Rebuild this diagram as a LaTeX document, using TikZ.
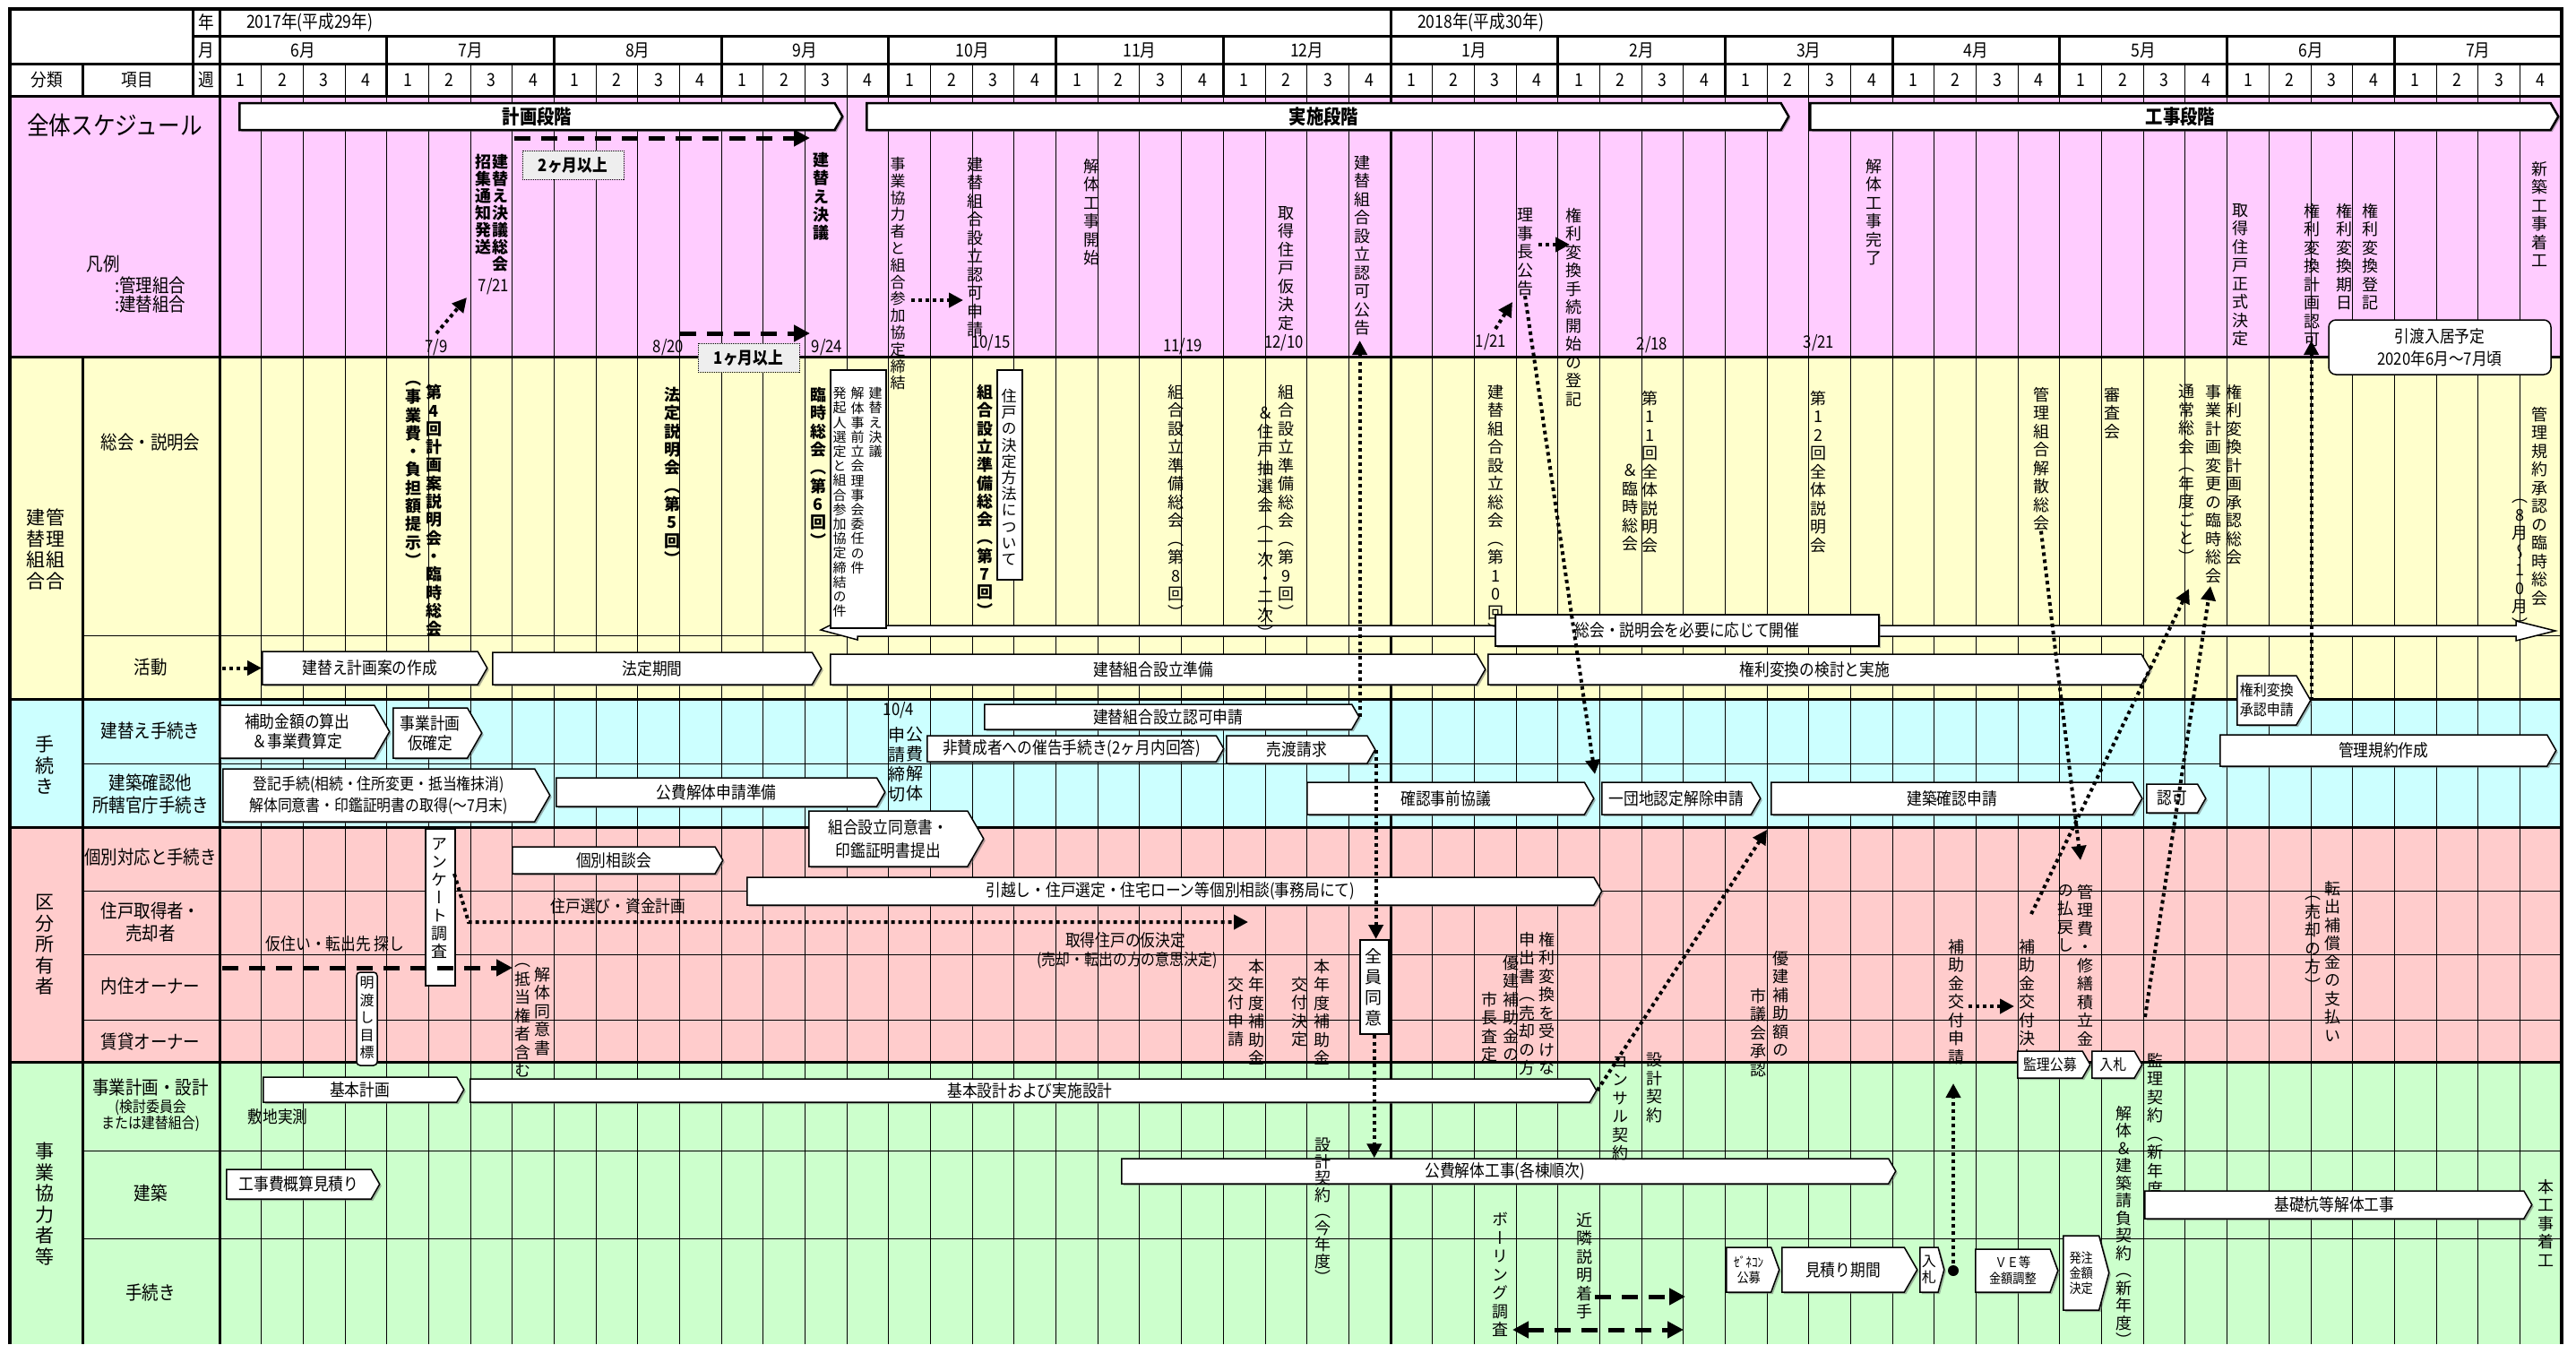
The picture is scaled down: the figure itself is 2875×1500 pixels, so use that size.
\documentclass[tikz,border=0pt]{standalone}
\usepackage{fontspec}
\setmainfont{Noto Sans CJK JP}[FakeStretch=0.88]
\newfontfamily\vfont{Noto Sans CJK JP}[RawFeature=+vert]
\usetikzlibrary{arrows.meta,shapes.symbols,shadows}
\definecolor{bgpink}{RGB}{255,204,255}
\definecolor{bgyellow}{RGB}{255,255,204}
\definecolor{bgcyan}{RGB}{204,255,255}
\definecolor{bgred}{RGB}{255,204,204}
\definecolor{bggreen}{RGB}{204,255,204}
\definecolor{boxgray}{RGB}{238,238,238}

% stack the characters of a string, one per line
\ExplSyntaxOn
\seq_new:N \g_vt_items_seq
\NewDocumentCommand \vt { m }
  {
    \seq_gclear:N \g_vt_items_seq
    \tl_map_inline:nn {#1} { \seq_gput_right:Nn \g_vt_items_seq {##1} }
    \seq_use:Nn \g_vt_items_seq { \\ }
  }
\ExplSyntaxOff

\begin{document}
\begin{tikzpicture}[
  x=1pt, y=-1pt,
  font=\fontsize{19}{22}\selectfont,
  grid/.style={line width=1pt},
  heavy/.style={line width=3pt},
  hd/.style={inner sep=0pt, font=\fontsize{20}{22}\selectfont},
  lbl/.style={inner sep=0pt, align=center, font=\fontsize{21}{25}\selectfont},
  vt/.style={anchor=north, inner sep=0pt, align=center, font=\vfont\fontsize{18}{20.5}\selectfont},
  vtb/.style={vt, font=\vfont\bfseries\fontsize{18}{20.3}\selectfont},
  vts/.style={vt, font=\vfont\fontsize{15}{16.2}\selectfont},
  vtl/.style={vt, font=\vfont\fontsize{21}{23.5}\selectfont},
  datelbl/.style={inner sep=0pt, font=\fontsize{19}{20}\selectfont},
  arrbox/.style={signal, signal to=east, signal pointer angle=120, draw, line width=1.5pt, fill=white,
    inner sep=0pt, anchor=west, align=center,
    drop shadow={shadow xshift=2pt, shadow yshift=-2pt, fill=black!60}},
  plainbox/.style={draw, line width=1.5pt, fill=white, inner sep=0pt, anchor=north west},
  phase/.style={arrbox, line width=2.5pt, font=\bfseries\fontsize{22}{24}\selectfont},
  gapbox/.style={draw, densely dotted, line width=1pt, fill=boxgray, inner sep=0pt,
    minimum width=113, minimum height=32, font=\bfseries\fontsize{19}{20}\selectfont},
  dotarr/.style={line width=4pt, dash pattern=on 4pt off 4pt, -{Triangle[length=16pt,width=16pt]}},
  dasharr/.style={line width=5pt, dash pattern=on 18pt off 12pt, -{Triangle[length=18pt,width=18pt]}}
]
\useasboundingbox (0,0) rectangle (2875,1500);
\fill[white] (0,0) rectangle (2875,1500);
\def\xa{245}
\def\wk{46.68}

% section colours
\fill[bgpink] (11,107) rectangle (2859,398);
\fill[bgyellow] (11,398) rectangle (2859,780);
\fill[bgcyan] (11,780) rectangle (2859,923);
\fill[bgred] (11,923) rectangle (2859,1185);
\fill[bggreen] (11,1185) rectangle (2859,1500);

% grid
\foreach \k in {1,...,55}
  \draw[grid] ({\xa+\k*\wk},71) -- ({\xa+\k*\wk},1500);
\foreach \m in {1,...,13}
  \draw[heavy] ({\xa+4*\m*\wk},40) -- ({\xa+4*\m*\wk},107);
\draw[heavy] ({\xa+28*\wk},10) -- ({\xa+28*\wk},1500);
\draw[heavy] (215,40) -- (2859,40);
\draw[heavy] (11,71) -- (2859,71);
\draw[heavy] (11,107) -- (2859,107);
\foreach \y in {398,780,923,1185}
  \draw[heavy] (11,\y) -- (2859,\y);
\foreach \y in {709,852,994,1065,1138,1284,1382}
  \draw[grid] (92,\y) -- (2859,\y);
\draw[heavy] (215,10) -- (215,107);
\draw[heavy] (\xa,10) -- (\xa,1500);
\draw[heavy] (92,71) -- (92,107);
\draw[heavy] (92,398) -- (92,1500);
\draw[line width=4pt] (11,1500) -- (11,10) -- (2859,10) -- (2859,1500);

% header
\node[hd] (nen) at (230,25) {年};
\node[hd] (tsuki) at (230,56) {月};
\node[hd] (shu) at (230,89) {週};
\node[hd] (bunrui) at (52,89) {分類};
\node[hd] (komoku) at (153,89) {項目};
\node[hd, anchor=west] (y2017) at (275,25) {2017年(平成29年)};
\node[hd, anchor=west] (y2018) at (1582,25) {2018年(平成30年)};
\foreach \m/\lab in {0/6月,1/7月,2/8月,3/9月,4/10月,5/11月,6/12月,7/1月,8/2月,9/3月,10/4月,11/5月,12/6月,13/7月}
  \node[hd] (mon\m) at ({\xa+(4*\m+2)*\wk},56) {\lab};
\foreach \k in {0,...,55} {
  \pgfmathtruncatemacro{\n}{mod(\k,4)+1}
  \node[hd] (wk\k) at ({\xa+(\k+0.5)*\wk},89) {\n};
}

% left labels
\node[inner sep=0pt, font=\fontsize{28}{30}\selectfont] (zentai) at (128,140) {全体スケジュール};
\node[lbl] (hanrei) at (115,295) {凡例};
\node[lbl, anchor=west] (hkanri) at (128,318) {:管理組合};
\node[lbl, anchor=west] (htate) at (128,340) {:建替組合};
\node[vtl] (cat1a) at (62,568) {\vt{管理組合}};
\node[vtl] (cat1b) at (40,568) {\vt{建替組合}};
\node[lbl] (it1) at (168,494) {総会・説明会};
\node[lbl] (it2) at (168,745) {活動};
\node[vtl] (cat2) at (50,821) {\vt{手続き}};
\node[lbl] (it3) at (168,816) {建替え手続き};
\node[lbl] (it4) at (168,886) {建築確認他\\所轄官庁手続き};
\node[vtl] (cat3) at (50,998) {\vt{区分所有者}};
\node[lbl] (it5) at (168,957) {個別対応と手続き};
\node[lbl] (it6) at (168,1029) {住戸取得者・\\売却者};
\node[lbl] (it7) at (168,1101) {内住オーナー};
\node[lbl] (it8) at (168,1162) {賃貸オーナー};
\node[vtl] (cat4) at (50,1275) {\vt{事業協力者等}};
\node[lbl] (it9) at (168,1214) {事業計画・設計};
\node[lbl, font=\fontsize{17}{18}\selectfont] (it9s) at (168,1245) {(検討委員会\\または建替組合)};
\node[lbl] (it10) at (168,1331) {建築};
\node[lbl] (it11) at (168,1442) {手続き};

% phases
\node[phase, minimum width=673, minimum height=30] (kphase) at (266,130) {計画段階};
\node[phase, minimum width=1029, minimum height=30] (jphase) at (966,130) {実施段階};
\node[phase, minimum width=835, minimum height=30] (cphase) at (2019,130) {工事段階};

% overall schedule
\node[vtb, font=\vfont\bfseries\fontsize{18}{19}\selectfont] (shoshu) at (539,172) {\vt{招集通知発送}};
\node[vtb, font=\vfont\bfseries\fontsize{18}{19}\selectfont] (ketsugisokai) at (558,172) {\vt{建替え決議総会}};
\node[datelbl] (d721) at (551,320) {7/21};
\node[vtb] (ketsugi) at (916,170) {\vt{建替え決議}};
\node[vt, font=\vfont\fontsize{17}{18.8}\selectfont] (kyotei) at (1002,175) {\vt{事業協力者と組合参加協定締結}};
\node[vt] (ninkashinsei) at (1088,175) {\vt{建替組合設立認可申請}};
\node[vt] (kaitaistart) at (1218,177) {\vt{解体工事開始}};
\node[vt] (karikettei) at (1435,230) {\vt{取得住戸仮決定}};
\node[vt] (ninkakoukoku) at (1520,173) {\vt{建替組合設立認可公告}};
\node[vt] (rijicho) at (1702,232) {\vt{理事長公告}};
\node[vt] (kenritouki) at (1756,232) {\vt{権利変換手続開始の登記}};
\node[vt] (kaitaiend) at (2091,177) {\vt{解体工事完了}};
\node[vt] (seishiki) at (2500,227) {\vt{取得住戸正式決定}};
\node[vt] (keikakuninka) at (2580,227) {\vt{権利変換計画認可}};
\node[vt] (kijitsu) at (2616,227) {\vt{権利変換期日}};
\node[vt] (touki) at (2645,227) {\vt{権利変換登記}};
\node[vt] (chakko) at (2834,180) {\vt{新築工事着工}};
\node[datelbl] (d79) at (487,388) {7/9};
\node[datelbl] (d820) at (746,388) {8/20};
\node[datelbl] (d924) at (923,388) {9/24};
\node[datelbl] (d1015) at (1106,383) {10/15};
\node[datelbl] (d1119) at (1320,387) {11/19};
\node[datelbl] (d1210) at (1433,383) {12/10};
\node[datelbl] (d121) at (1664,382) {1/21};
\node[datelbl] (d218) at (1844,385) {2/18};
\node[datelbl] (d321) at (2030,383) {3/21};
\node[gapbox] (twomon) at (639.5,184) {2ヶ月以上};
\node[gapbox] (onemon) at (835.5,399) {1ヶ月以上};
\node[draw, line width=1.5pt, fill=white, rounded corners=8pt, minimum width=248, minimum height=61,
  align=center, inner sep=0pt, font=\fontsize{19}{25}\selectfont] (hikiwatashi) at (2723,387.5) {引渡入居予定\\2020年6月～7月頃};

% general meetings
\node[vtb] (futan) at (461,425) {\vt{（事業費・負担額提示）}};
\node[vtb] (dai4) at (484,429) {\vt{第4回計画案説明会・臨時総会}};
\node[vtb] (dai5) at (750,432) {\vt{法定説明会（第5回）}};
\node[vtb] (dai6) at (913,432) {\vt{臨時総会（第6回）}};
\draw[line width=1.5pt, fill=white] (916,703) -- (926,698) -- (2808,698) -- (2808,693) -- (2852,704)
  -- (2808,715) -- (2808,710) -- (957,710) -- (957,714) -- cycle;
\node[plainbox, minimum width=62, minimum height=288] (callout) at (926,412) {};
\node[vts] (agenda1) at (977,432) {\vt{建替え決議}};
\node[vts] (agenda2) at (957,432) {\vt{解体事前立会理事会委任の件}};
\node[vts] (agenda3) at (937,432) {\vt{発起人選定と組合参加協定締結の件}};
\node[vtb] (dai7) at (1099,429) {\vt{組合設立準備総会（第7回）}};
\node[plainbox, minimum width=28, minimum height=234] (houhoubox) at (1112,412) {};
\node[vt, font=\vfont\fontsize{17}{18.2}\selectfont] (houhou) at (1126,434) {\vt{住戸の決定方法について}};
\node[vt] (dai8) at (1312,429) {\vt{組合設立準備総会（第8回）}};
\node[vt] (chusen) at (1412,454) {\vt{＆住戸抽選会（一次・二次）}};
\node[vt] (dai9) at (1435,429) {\vt{組合設立準備総会（第9回）}};
\node[vt] (dai10) at (1669,429) {\vt{建替組合設立総会（第10回）}};
\node[vt] (rinji11) at (1819,518) {\vt{＆臨時総会}};
\node[vt] (dai11) at (1841,436) {\vt{第11回全体説明会}};
\node[vt] (dai12) at (2029,436) {\vt{第12回全体説明会}};
\node[vt] (kaisan) at (2278,432) {\vt{管理組合解散総会}};
\node[vt] (shinsa) at (2357,432) {\vt{審査会}};
\node[vt] (tsujo) at (2440,429) {\vt{通常総会（年度ごと）}};
\node[vt] (henkou) at (2470,429) {\vt{事業計画変更の臨時総会}};
\node[vt] (shonin) at (2493,429) {\vt{権利変換計画承認総会}};
\node[vt] (kiyaku) at (2834,454) {\vt{管理規約承認の臨時総会}};
\node[vt] (kiyakuki) at (2812,557) {\vt{（8月～10月）}};
\node[draw, line width=1.5pt, fill=white, minimum width=428, minimum height=35, inner sep=0pt,
  drop shadow={shadow xshift=2pt, shadow yshift=-2pt, fill=black!60}] (hitsuyou) at (1883,703.5) {総会・説明会を必要に応じて開催};

% activities
\node[arrbox, minimum width=251, minimum height=37] (plan) at (292,745.5) {建替え計画案の作成};
\node[arrbox, minimum width=367, minimum height=36] (legal) at (549,746) {法定期間};
\node[arrbox, minimum width=731, minimum height=34] (prep) at (926,747) {建替組合設立準備};
\node[arrbox, minimum width=739, minimum height=34] (rights) at (1660,747) {権利変換の検討と実施};
\node[arrbox, minimum width=82, minimum height=55, font=\fontsize{17}{22}\selectfont] (rcapp) at (2496,781.5) {権利変換\\承認申請};

% procedures
\node[arrbox, minimum width=189, minimum height=59] (subsidy) at (245,816.5) {補助金額の算出\\＆事業費算定};
\node[arrbox, minimum width=99, minimum height=56] (bizplan) at (438,818) {事業計画\\仮確定};
\node[arrbox, minimum width=418, minimum height=28] (authreq) at (1098,800) {建替組合設立認可申請};
\node[arrbox, minimum width=331, minimum height=29] (notice) at (1034,835.5) {非賛成者への催告手続き(2ヶ月内回答)};
\node[arrbox, minimum width=166, minimum height=31] (sellreq) at (1368,836.5) {売渡請求};
\node[arrbox, minimum width=365, minimum height=59, font=\fontsize{18}{24}\selectfont] (registr) at (248,887.5) {登記手続(相続・住所変更・抵当権抹消)\\解体同意書・印鑑証明書の取得(～7月末)};
\node[arrbox, minimum width=367, minimum height=32] (demoprep) at (620,884) {公費解体申請準備};
\node[datelbl] (d104) at (1003,793) {10/4};
\node[vt, font=\vfont\fontsize{19}{22}\selectfont] (koukai) at (1021,811) {\vt{公費解体}};
\node[vt, font=\vfont\fontsize{19}{22}\selectfont] (shimekiri) at (1001,811) {\vt{申請締切}};
\node[arrbox, minimum width=320, minimum height=36] (confirm) at (1458,891) {確認事前協議};
\node[arrbox, minimum width=177, minimum height=36] (danchi) at (1787,891) {一団地認定解除申請};
\node[arrbox, minimum width=414, minimum height=36] (bldconf) at (1976,891) {建築確認申請};
\node[arrbox, minimum width=66, minimum height=32] (permit) at (2395,891) {認可};
\node[arrbox, minimum width=375, minimum height=35] (mgmtrule) at (2477,837.5) {管理規約作成};
\node[arrbox, minimum width=195, minimum height=62, font=\fontsize{19}{26}\selectfont] (consent) at (902,936) {組合設立同意書・\\印鑑証明書提出};

% unit owners
\node[arrbox, minimum width=235, minimum height=30] (indiv) at (571,960) {個別相談会};
\node[arrbox, minimum width=954, minimum height=31] (consult) at (833,994.5) {引越し・住戸選定・住宅ローン等個別相談(事務局にて)};
\node[plainbox, minimum width=33, minimum height=175] (surveybox) at (474,924) {};
\node[vt, font=\vfont\fontsize{18}{20}\selectfont] (survey) at (490.5,935) {\vt{アンケート調査}};
\node[draw, line width=1.5pt, fill=white, rounded corners=4pt, minimum width=23, minimum height=104,
  inner sep=0pt] (vacatebox) at (409.5,1137) {};
\node[vt, font=\vfont\fontsize{16}{19.4}\selectfont] (vacate) at (409.5,1090) {\vt{明渡し目標}};
\node[inner sep=0pt] (erabi) at (690,1011) {住戸選び・資金計画};
\node[inner sep=0pt] (karizumai) at (374,1053) {仮住い・転出先 探し};
\node[vt] (doisho) at (605,1079) {\vt{解体同意書}};
\node[vt] (teitou) at (583,1075) {\vt{（抵当権者含む）}};
\node[inner sep=0pt] (karikimari) at (1256,1049) {取得住戸の仮決定};
\node[inner sep=0pt, font=\fontsize{18}{20}\selectfont] (ishi) at (1258,1072) {(売却・転出の方の意思決定)};
\node[vt] (hojo1) at (1402,1070) {\vt{本年度補助金}};
\node[vt] (koufu1) at (1379,1090) {\vt{交付申請}};
\node[vt] (hojo2) at (1475,1070) {\vt{本年度補助金}};
\node[vt] (koufu2) at (1450,1090) {\vt{交付決定}};
\node[plainbox, minimum width=32, minimum height=105] (allagree) at (1517,1048) {};
\node[vt, font=\vfont\fontsize{19}{23}\selectfont] (allagreet) at (1533,1058) {\vt{全員同意}};
\node[vt] (yuken1) at (1686,1066) {\vt{優建補助金の}};
\node[vt] (shicho) at (1662,1107) {\vt{市長査定}};
\node[vt] (ukenai) at (1726,1040) {\vt{権利変換を受けな}};
\node[vt] (moushide) at (1704,1040) {\vt{申出書（売却の方）}};
\node[vt] (yuken2) at (1987,1061) {\vt{優建補助額の}};
\node[vt] (gikai) at (1962,1103) {\vt{市議会承認}};
\node[vt] (kofushinsei) at (2183,1048) {\vt{補助金交付申請}};
\node[vt] (kofukettei) at (2262,1048) {\vt{補助金交付決定}};
\node[vt] (shuzen) at (2327,987) {\vt{管理費・修繕積立金}};
\node[vt] (haraimodoshi) at (2305,987) {\vt{の払戻し}};
\node[vt] (hosho) at (2603,983) {\vt{転出補償金の支払い}};
\node[vt] (baikyaku) at (2581,1000) {\vt{（売却の方）}};

% business partners
\node[arrbox, minimum width=224, minimum height=28] (basicplan) at (293,1216) {基本計画};
\node[arrbox, minimum width=1257, minimum height=26] (design) at (524,1217) {基本設計および実施設計};
\node[inner sep=0pt] (sokuryo) at (310,1246) {敷地実測};
\node[arrbox, minimum width=171, minimum height=33] (estimate) at (252,1321.5) {工事費概算見積り};
\node[arrbox, minimum width=864, minimum height=28] (demowork) at (1251,1307) {公費解体工事(各棟順次)};
\node[vt, font=\vfont\fontsize{18}{18.5}\selectfont] (sekkei1) at (1476,1270) {\vt{設計契約（今年度）}};
\node[vt] (consul) at (1808,1179) {\vt{コンサル契約}};
\node[vt] (sekkei2) at (1846,1175) {\vt{設計契約}};
\node[vt] (boring) at (1674,1353) {\vt{ボーリング調査}};
\node[vt] (kinrin) at (1768,1353) {\vt{近隣説明着手}};
\node[arrbox, signal pointer angle=140, minimum width=59, minimum height=50, font=\fontsize{15}{17}\selectfont] (gencon) at (1926,1417) {ｾﾞﾈｺﾝ\\公募};
\node[arrbox, minimum width=151, minimum height=50] (quote) at (1988,1417) {見積り期間};
\node[arrbox, signal pointer angle=150, minimum width=27, minimum height=50, font=\vfont\fontsize{16}{18}\selectfont] (bidone) at (2142,1417) {\vt{入札}};
\node[arrbox, signal pointer angle=140, minimum width=92, minimum height=48, font=\fontsize{15}{18}\selectfont] (vebox) at (2204,1418) {ＶＥ等\\金額調整};
\node[arrbox, signal pointer angle=150, minimum width=51, minimum height=83, font=\fontsize{15}{17}\selectfont] (order) at (2302,1420.5) {発注\\金額\\決定};
\node[arrbox, minimum width=81, minimum height=30, font=\fontsize{17}{20}\selectfont] (supv) at (2251,1188) {監理公募};
\node[arrbox, minimum width=56, minimum height=30, font=\fontsize{17}{20}\selectfont] (bidtwo) at (2334,1188) {入札};
\node[vt] (kanri) at (2405,1175) {\vt{監理契約（新年度）}};
\node[vt, font=\vfont\fontsize{18}{19.5}\selectfont] (ukeoi) at (2370,1234) {\vt{解体＆建築請負契約（新年度）}};
\node[arrbox, minimum width=432, minimum height=31] (pile) at (2393,1344.5) {基礎杭等解体工事};
\node[vt] (honkoji) at (2841,1316) {\vt{本工事着工}};

% connectors
\coordinate (dashAs) at (574,154);
\coordinate (dashAe) at (904,154);
\coordinate (dashBs) at (759,372);
\coordinate (dashBe) at (904,372);
\coordinate (a79s) at (487,372);
\coordinate (a79e) at (521,332);
\coordinate (kyos) at (1017,335);
\coordinate (kyoe) at (1075,335);
\coordinate (pubtip) at (1520,380);
\coordinate (a121s) at (1669,367);
\coordinate (a121e) at (1688,337);
\coordinate (rjs) at (1717,273);
\coordinate (rje) at (1752,273);
\coordinate (rjdown) at (1780,864);
\coordinate (kktip) at (2582,380);
\coordinate (actstart) at (248,745.5);
\coordinate (sv1) at (507,975);
\coordinate (sv2) at (523,1029);
\coordinate (sv3) at (1393,1029);
\coordinate (kari1) at (248,1080);
\coordinate (kari2) at (572,1080);
\coordinate (bcin) at (1972,926);
\coordinate (kaisanend) at (2322,960);
\coordinate (ro1) at (2267,1020);
\coordinate (ro2) at (2443,657);
\coordinate (rp1) at (2394,1135);
\coordinate (rp2) at (2467,654);
\coordinate (bidpt) at (2180,1418);
\coordinate (bidtop) at (2180,1209);
\coordinate (hk1) at (2197,1123);
\coordinate (hk2) at (2248,1123);
\coordinate (kin1) at (1780,1447);
\coordinate (kin2) at (1881,1447);
\coordinate (bor1) at (1688,1484);
\coordinate (bor2) at (1879,1484);

\draw[dasharr] (dashAs) -- (dashAe);
\draw[dasharr] (dashBs) -- (dashBe);
\draw[dasharr] (kari1) -- (kari2);
\draw[dasharr] (kin1) -- (kin2);
\draw[dasharr, {Triangle[length=18pt,width=18pt]}-{Triangle[length=18pt,width=18pt]}] (bor1) -- (bor2);
\draw[dotarr] (a79s) -- (a79e);
\draw[dotarr] (kyos) -- (kyoe);
\draw[dotarr] (authreq.east) -- (authreq.east |- pubtip);
\draw[dotarr] (a121s) -- (a121e);
\draw[dotarr] (rjs) -- (rje);
\draw[dotarr] (rijicho.south) -- (rjdown);
\draw[dotarr] (rcapp.east) -- (rcapp.east |- kktip);
\draw[dotarr] (actstart) -- (plan.west);
\draw[dotarr] (sv1) -- (sv2) -- (sv3);
\draw[dotarr] (sellreq.east) -- (sellreq.east |- allagree.north);
\draw[dotarr] (allagree.south) -- (allagree.south |- demowork.north);
\draw[dotarr] (design.east) -- (bcin);
\draw[dotarr] (kaisan.south) -- (kaisanend);
\draw[dotarr] (ro1) -- (ro2);
\draw[dotarr] (rp1) -- (rp2);
\draw[dotarr] (hk1) -- (hk2);
\fill (bidpt) circle (6);
\draw[dotarr] (bidpt) -- (bidtop);
\end{tikzpicture}
\end{document}
